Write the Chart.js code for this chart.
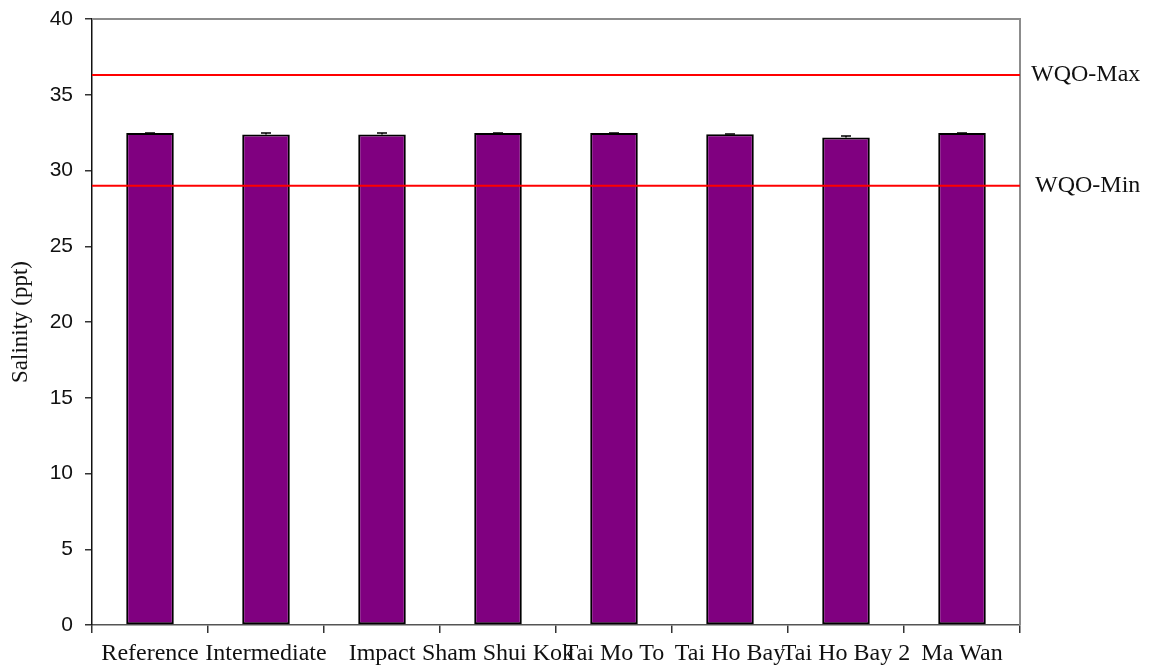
<!DOCTYPE html>
<html>
<head>
<meta charset="utf-8">
<script src="https://cdn.jsdelivr.net/npm/chart.js@4"></script>
<style>
html,body{margin:0;padding:0;background:#fff;}
#wrap{width:1153px;height:668px;position:relative;}
</style>
</head>
<body>
<div id="wrap"><canvas id="c" width="1153" height="668"></canvas></div>
<script>
const categories = ["Reference","Intermediate","Impact","Sham Shui Kok","Tai Mo To","Tai Ho Bay","Tai Ho Bay 2","Ma Wan"];
const salinity = [32.47, 32.38, 32.38, 32.47, 32.47, 32.4, 32.17, 32.47];
const errors = [0.01, 0.1, 0.1, 0.01, 0.01, 0.01, 0.1, 0.01];
const yTicks = [0,5,10,15,20,25,30,35,40];
const wqoLevels = [36.3, 29];
const wqoLabels = ["WQO-Max", "WQO-Min"];

const SERIF = '"Liberation Serif", "DejaVu Serif", serif';
const SANS = '"Liberation Sans", Arial, sans-serif';

const extras = {
  id: 'extras',
  afterDatasetsDraw(chart) {
    const ctx = chart.ctx, ca = chart.chartArea;
    const y = chart.scales.y;
    const meta = chart.getDatasetMeta(0);
    ctx.save();
    // error bars
    ctx.strokeStyle = '#000';
    ctx.lineWidth = 1.5;
    meta.data.forEach((bar, i) => {
      const yTop = y.getPixelForValue(salinity[i] + errors[i]);
      const yv = y.getPixelForValue(salinity[i]);
      ctx.beginPath();
      ctx.moveTo(bar.x, yv); ctx.lineTo(bar.x, yTop);
      ctx.moveTo(bar.x - 5, yTop); ctx.lineTo(bar.x + 5, yTop);
      ctx.stroke();
    });
    // frame top/right
    ctx.strokeStyle = '#8c8c8c';
    ctx.lineWidth = 2;
    ctx.beginPath();
    ctx.moveTo(ca.left, ca.top); ctx.lineTo(ca.right, ca.top); ctx.lineTo(ca.right, ca.bottom);
    ctx.stroke();
    // WQO lines and labels
    ctx.strokeStyle = '#ff0000';
    ctx.lineWidth = 2;
    ctx.fillStyle = '#111';
    ctx.font = '24px ' + SERIF;
    ctx.textBaseline = 'middle';
    wqoLevels.forEach((v, i) => {
      const py = y.getPixelForValue(v);
      ctx.beginPath();
      ctx.moveTo(ca.left, py); ctx.lineTo(ca.right, py);
      ctx.stroke();
      ctx.fillText(wqoLabels[i], ca.right + (i === 0 ? 11 : 15), py);
    });
    ctx.restore();
  }
};

new Chart(document.getElementById('c'), {
  type: 'bar',
  data: {
    labels: categories,
    datasets: [{
      data: salinity,
      backgroundColor: '#800080',
      borderColor: '#000',
      borderWidth: 2,
      borderSkipped: false,
      categoryPercentage: 1,
      barPercentage: 0.41
    }]
  },
  options: {
    responsive: false,
    animation: false,
    devicePixelRatio: 1,
    layout: { padding: { left: 0, right: 133, top: 19, bottom: 0 } },
    plugins: { legend: { display: false }, tooltip: { enabled: false } },
    scales: {
      x: {
        afterFit(s) { s.height = 43; s.paddingLeft = 0; s.paddingRight = 0; },
        grid: { offset: true, drawOnChartArea: false, drawTicks: true, tickLength: 8, color: '#333', lineWidth: 1.5 },
        border: { color: '#555', width: 1.5 },
        ticks: { autoSkip: false, maxRotation: 0, minRotation: 0, color: '#111', font: { family: SERIF, size: 24 }, padding: 6 }
      },
      y: {
        min: 0, max: 40,
        afterBuildTicks(s) { s.ticks = yTicks.map(v => ({ value: v })); },
        afterFit(s) { s.width = 92; s.paddingTop = 0; s.paddingBottom = 0; },
        grid: { drawOnChartArea: false, drawTicks: true, tickLength: 7, color: '#333', lineWidth: 1.5 },
        border: { color: '#111', width: 1.5 },
        ticks: { color: '#111', font: { family: SANS, size: 21 }, padding: 12 },
        title: { display: true, text: 'Salinity (ppt)', color: '#111', font: { family: SERIF, size: 23 }, padding: { top: 7, bottom: 0 } }
      }
    }
  },
  plugins: [extras]
});
</script>
</body>
</html>
